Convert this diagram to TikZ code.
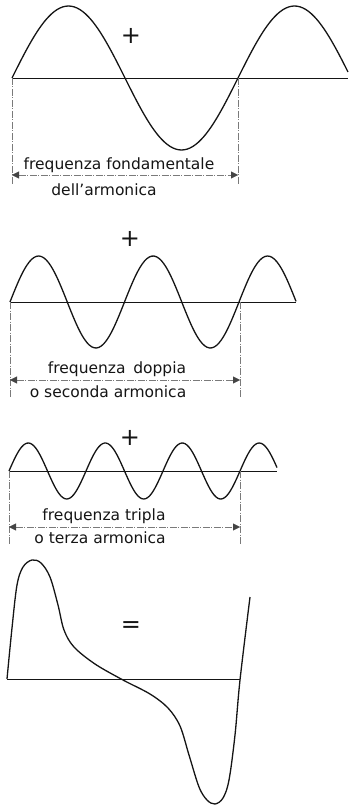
\documentclass[tikz,border=0pt]{standalone}
\usepackage{fontspec}
\setmainfont{DejaVu Sans}
\usetikzlibrary{arrows.meta}
\usepackage{xcolor}
\definecolor{inkblack}{HTML}{151515}
\definecolor{dimgray}{HTML}{7A7A7A}

\begin{document}
\begin{tikzpicture}[x=1pt, y=-1pt, font=\fontsize{15.5}{17}\selectfont,
    wave/.style={inkblack, line width=1.3pt},
    axisline/.style={inkblack, line width=0.7pt},
    dimline/.style={dimgray, line width=0.4pt, dash pattern=on 7pt off 1.5pt on 1pt off 1.5pt},
    dimarrow/.style={dimline, {Triangle[length=7pt,width=7pt,color=inkblack!80]}-{Triangle[length=7pt,width=7pt,color=inkblack!80]}},
    sign/.style={text=inkblack, font=\fontsize{24}{26}\selectfont},
    caption/.style={text=inkblack, inner sep=0pt}]
  \useasboundingbox (0,0) rectangle (348,805);

  % fondamentale
  \draw[axisline] (12,78) -- (348,78);
  \draw[wave, domain=12:348, samples=120, smooth]
    plot (\x, {78 - 72*sin((\x-12)/226*360)});
  \node[sign] (plus1) at (131,36) {+};
  \coordinate (f1a) at (12,78);  \coordinate (f1b) at (12,184);
  \coordinate (f1c) at (238,78); \coordinate (f1d) at (238,184);
  \draw[dimline] (f1a) -- (f1b);
  \draw[dimline] (f1c) -- (f1d);
  \coordinate (f1l) at (12,175); \coordinate (f1r) at (238,175);
  \draw[dimarrow] (f1l) -- (f1r);
  \node[caption, fill=white, inner xsep=1pt] (lab1a) at (119,165) {frequenza fondamentale};
  \node[caption] (lab1b) at (104,190) {dell'armonica};

  % seconda armonica
  \draw[axisline] (10,302) -- (296,302);
  \draw[wave, domain=10:296, samples=120, smooth]
    plot (\x, {302 - 46*sin((\x-10)/114.5*360)});
  \node[sign] (plus2) at (130,239) {+};
  \coordinate (f2a) at (10,302);  \coordinate (f2b) at (10,397);
  \coordinate (f2c) at (240,302); \coordinate (f2d) at (240,397);
  \draw[dimline] (f2a) -- (f2b);
  \draw[dimline] (f2c) -- (f2d);
  \coordinate (f2l) at (10,380); \coordinate (f2r) at (240,380);
  \draw[dimarrow] (f2l) -- (f2r);
  \node[caption] (lab2a) at (117,369) {frequenza\enspace doppia};
  \node[caption] (lab2b) at (108,392) {o seconda armonica};

  % terza armonica
  \draw[axisline] (9,471) -- (277,471);
  \draw[wave, domain=9:277, samples=150, smooth]
    plot (\x, {471 - 28*sin((\x-9)/77*360)});
  \node[sign] (plus3) at (130,438) {+};
  \coordinate (f3a) at (9,471);   \coordinate (f3b) at (9,544);
  \coordinate (f3c) at (240,471); \coordinate (f3d) at (240,544);
  \draw[dimline] (f3a) -- (f3b);
  \draw[dimline] (f3c) -- (f3d);
  \coordinate (f3l) at (9,527); \coordinate (f3r) at (240,527);
  \draw[dimarrow] (f3l) -- (f3r);
  \node[caption] (lab3a) at (104,516) {frequenza tripla};
  \node[caption] (lab3b) at (100,538) {o terza armonica};

  % somma
  \draw[axisline] (7,679) -- (240,679);
  \draw[wave] plot[smooth, tension=0.55] coordinates {
    (7,679) (12,628) (17,585) (23,567) (32,560) (41,563) (50,577)
    (58,605) (64,630) (74,647) (95,664) (123,680) (150,694) (168,708)
    (180,726) (189,755) (199,787) (207,800) (215,804) (223,798)
    (229,780) (235,735) (240,680) (250,597)};
  \node[sign] (eq) at (131,627) {=};
\end{tikzpicture}
\end{document}
